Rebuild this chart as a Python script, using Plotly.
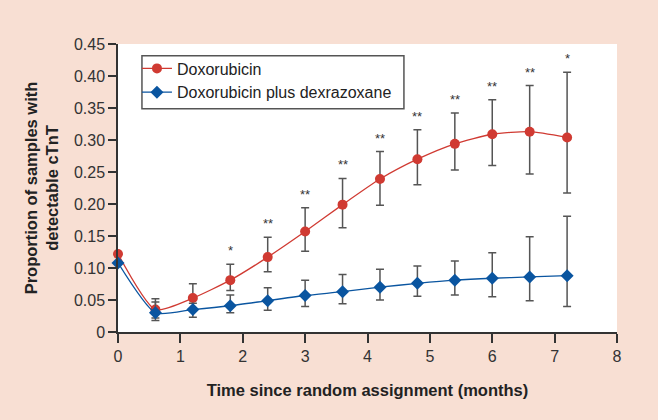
import plotly.graph_objects as go

months = [0, 0.6, 1.2, 1.8, 2.4, 3.0, 3.6, 4.2, 4.8, 5.4, 6.0, 6.6, 7.2]

dox = [0.122, 0.035, 0.053, 0.081, 0.117, 0.157, 0.199, 0.239, 0.270, 0.294, 0.309, 0.313, 0.304]
dox_upper = [0.122, 0.052, 0.0755, 0.106, 0.148, 0.194, 0.240, 0.282, 0.316, 0.342, 0.363, 0.385, 0.406]
dox_lower = [0.122, 0.022, 0.036, 0.065, 0.094, 0.126, 0.163, 0.198, 0.230, 0.253, 0.260, 0.247, 0.217]

dex = [0.108, 0.030, 0.035, 0.041, 0.049, 0.057, 0.063, 0.070, 0.076, 0.081, 0.084, 0.086, 0.088]
dex_upper = [0.108, 0.047, 0.045, 0.058, 0.069, 0.081, 0.090, 0.098, 0.103, 0.111, 0.124, 0.149, 0.181]
dex_lower = [0.108, 0.018, 0.023, 0.030, 0.034, 0.040, 0.044, 0.050, 0.056, 0.058, 0.055, 0.049, 0.040]

stars = ["", "", "", "*", "**", "**", "**", "**", "**", "**", "**", "**", "*"]

y_ticks = [0, 0.05, 0.10, 0.15, 0.20, 0.25, 0.30, 0.35, 0.40, 0.45]
y_ticktext = ["0", "0.05", "0.10", "0.15", "0.20", "0.25", "0.30", "0.35", "0.40", "0.45"]
x_ticks = [0, 1, 2, 3, 4, 5, 6, 7, 8]

RED = "#d03a32"
BLUE = "#0a55a0"
BG = "#f8dfd3"
INK = "#333333"
FONT = "Liberation Sans, Arial, sans-serif"

fig = go.Figure()

fig.add_trace(go.Scatter(
    x=months, y=dox, name="Doxorubicin", mode="lines+markers",
    line=dict(color=RED, width=1.3, shape="spline", smoothing=0.6),
    marker=dict(symbol="circle", size=10, color=RED),
    error_y=dict(type="data", symmetric=False,
                 array=[u - v for u, v in zip(dox_upper, dox)],
                 arrayminus=[v - l for v, l in zip(dox, dox_lower)],
                 color="#555555", thickness=1.5, width=4),
    cliponaxis=False,
))
fig.add_trace(go.Scatter(
    x=months, y=dex, name="Doxorubicin plus dexrazoxane", mode="lines+markers",
    line=dict(color=BLUE, width=1.3, shape="spline", smoothing=0.6),
    marker=dict(symbol="diamond", size=10, color=BLUE),
    error_y=dict(type="data", symmetric=False,
                 array=[u - v for u, v in zip(dex_upper, dex)],
                 arrayminus=[v - l for v, l in zip(dex, dex_lower)],
                 color="#555555", thickness=1.5, width=4),
    cliponaxis=False,
))

for xm, s, up in zip(months, stars, dox_upper):
    if s:
        fig.add_annotation(x=xm, y=up, text=s, showarrow=False, yanchor="bottom",
                           yshift=4, font=dict(family=FONT, size=13, color=INK))

# legend frame
fig.add_shape(type="rect", xref="paper", yref="paper", x0=0.048, x1=0.573, y0=0.775, y1=0.959,
              line=dict(color="#555555", width=1.5), fillcolor="white", layer="below")

fig.update_layout(
    width=658, height=420,
    margin=dict(l=118, r=41, t=44, b=88),
    paper_bgcolor=BG, plot_bgcolor="white",
    font=dict(family=FONT, color=INK),
    showlegend=True,
    legend=dict(x=0.038, y=0.974, xanchor="left", yanchor="top",
                bgcolor="rgba(0,0,0,0)", borderwidth=0,
                font=dict(family=FONT, size=16, color="#222222"),
                itemwidth=30, tracegroupgap=0),
    xaxis=dict(range=[0, 8], tickvals=x_ticks, ticks="outside", ticklen=9,
               tickwidth=1.5, tickcolor=INK, showline=True, linecolor=INK,
               linewidth=1.5, showgrid=False, zeroline=False, automargin=False,
               tickfont=dict(family=FONT, size=16, color=INK),
               title=dict(text="<b>Time since random assignment (months)</b>",
                          font=dict(family=FONT, size=16.5, color="#222222"), standoff=20)),
    yaxis=dict(range=[0, 0.45], tickvals=y_ticks, ticktext=y_ticktext, ticks="outside",
               ticklen=8, tickwidth=1.5, tickcolor=INK, showline=True, linecolor=INK,
               linewidth=1.5, showgrid=False, zeroline=False, automargin=False,
               tickfont=dict(family=FONT, size=16, color=INK),
               title=dict(text="<b>Proportion of samples with<br>detectable cTnT</b>",
                          font=dict(family=FONT, size=16.5, color="#222222"), standoff=11)),
)

fig.write_html("out.html", config={"displayModeBar": False},
               post_script="document.body.style.margin='0';")
